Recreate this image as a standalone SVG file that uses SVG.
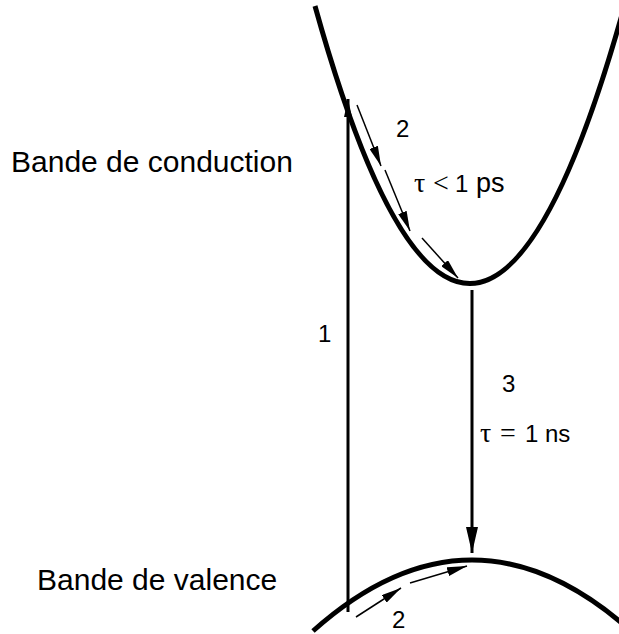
<svg xmlns="http://www.w3.org/2000/svg" width="619" height="634" viewBox="0 0 619 634">
<style>
text{font-family:"Liberation Sans",Arial,sans-serif;font-size:24px;fill:#000}
.big{font-size:30px}
.sym{font-family:"Liberation Serif","DejaVu Serif",serif;font-size:28px}
.band{fill:none;stroke:#000;stroke-width:5}
.trans{fill:none;stroke:#000;stroke-width:3}
.relax{fill:none;stroke:#000;stroke-width:1.5}
</style>
<defs>
<marker id="big3" viewBox="0 0 10 10" refX="10" refY="5" markerWidth="26" markerHeight="12" markerUnits="userSpaceOnUse" orient="auto" preserveAspectRatio="none"><path d="M0,0 L10,5 L0,10 Z" fill="#000"/></marker>
<marker id="small" viewBox="0 0 10 10" refX="10" refY="5" markerWidth="20" markerHeight="9" markerUnits="userSpaceOnUse" orient="auto" preserveAspectRatio="none"><path d="M0,0 L10,5 L0,10 Z" fill="#000"/></marker>
<marker id="up1" viewBox="0 0 10 10" refX="10" refY="5" markerWidth="18" markerHeight="8" markerUnits="userSpaceOnUse" orient="auto" preserveAspectRatio="none"><path d="M0,0 L10,5 L0,10 Z" fill="#000"/></marker>
</defs>
<g id="conduction-band">
<path class="band" d="M315,6 Q470,562 625,4"/>
<text class="big" x="11" y="172">Bande de conduction</text>
</g>
<g id="valence-band">
<path class="band" d="M313,631 Q472,489 631,631"/>
<text class="big" x="37" y="590">Bande de valence</text>
</g>
<g id="connectors">
<line class="trans" x1="348" y1="612" x2="348" y2="99" marker-end="url(#up1)"/>
<line class="trans" x1="472" y1="290" x2="472" y2="553" marker-end="url(#big3)"/>
<line class="relax" x1="357" y1="105" x2="381" y2="166" marker-end="url(#small)"/>
<line class="relax" x1="385" y1="170" x2="410" y2="231" marker-end="url(#small)"/>
<line class="relax" x1="422" y1="238" x2="458" y2="278" marker-end="url(#small)"/>
<line class="relax" x1="356" y1="617" x2="401" y2="588" marker-end="url(#small)"/>
<line class="relax" x1="410" y1="583" x2="467" y2="566" marker-end="url(#small)"/>
</g>
<g id="labels">
<text x="318" y="342">1</text>
<text x="396" y="137">2</text>
<text y="192"><tspan class="sym" x="414">τ</tspan><tspan class="sym" x="433">&lt;</tspan><tspan x="455">1</tspan><tspan x="476" style="font-size:27px">ps</tspan></text>
<text x="502" y="392">3</text>
<text y="442"><tspan class="sym" x="480">τ</tspan><tspan class="sym" x="500">=</tspan><tspan x="525">1</tspan><tspan x="545">ns</tspan></text>
<text x="392" y="628">2</text>
</g>
</svg>
